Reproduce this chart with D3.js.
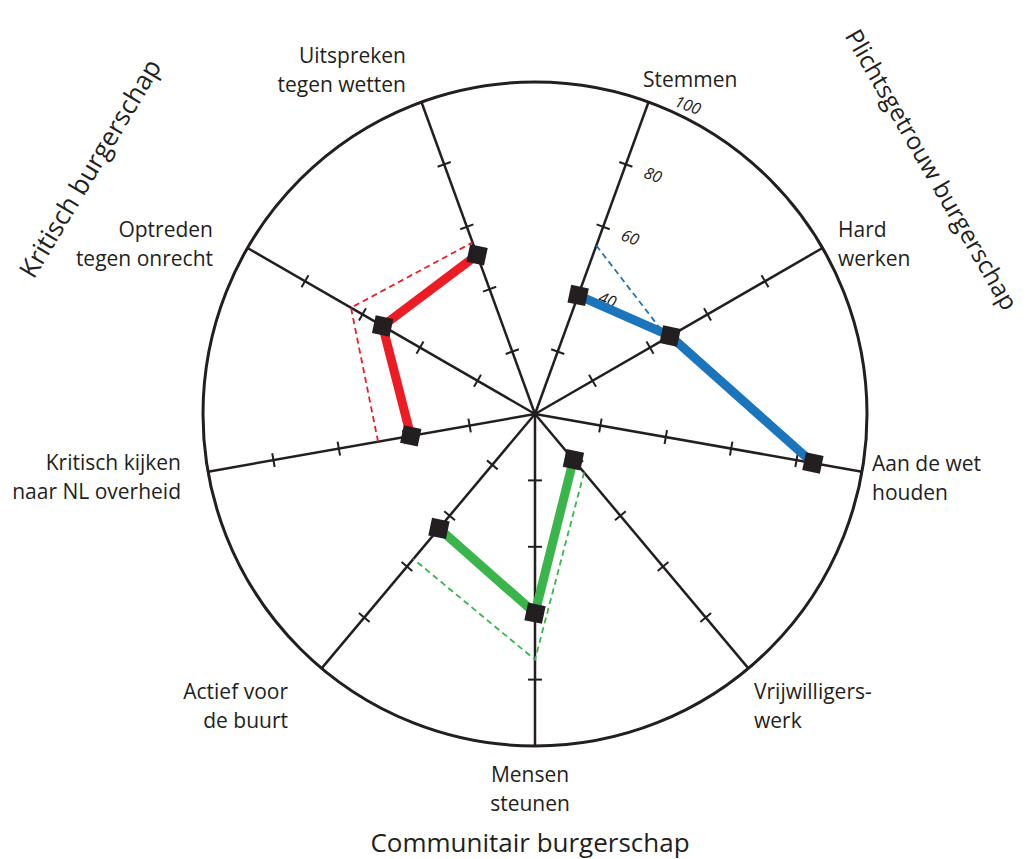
<!DOCTYPE html>
<html>
<head>
<meta charset="utf-8">
<script src="https://cdn.jsdelivr.net/npm/d3@7"></script>
<style>
  body { margin: 0; background: #fff; }
  svg text { font-family: "Open Sans", "Noto Sans", sans-serif; fill: #231f20; }
</style>
</head>
<body>
<svg id="chart" width="1033" height="859"></svg>
<script>
// categorieën, met de klok mee vanaf "Stemmen"
const categories = ["Stemmen", "Hard werken", "Aan de wet houden", "Vrijwilligerswerk",
  "Mensen steunen", "Actief voor de buurt", "Kritisch kijken naar NL overheid",
  "Optreden tegen onrecht", "Uitspreken tegen wetten"];
const labelLines = [["Stemmen"], ["Hard", "werken"], ["Aan de wet", "houden"],
  ["Vrijwilligers-", "werk"], ["Mensen", "steunen"], ["Actief voor", "de buurt"],
  ["Kritisch kijken", "naar NL overheid"], ["Optreden", "tegen onrecht"],
  ["Uitspreken", "tegen wetten"]];
const solidValues = [38, 47, 85, 18, 60, 45, 38, 53, 51];
const dashedValues = [54, 46, 86, 23, 74, 57, 48, 64, 55];
const groups = ["Plichtsgetrouw burgerschap", "Communitair burgerschap", "Kritisch burgerschap"];
const groupMembers = [[0, 1, 2], [3, 4, 5], [6, 7, 8]];
const groupColors = ["#1b75bc", "#39b54a", "#ed1c24"];
const tickValues = [20, 40, 60, 80, 100];
const tickLabels = ["40", "60", "80", "100"];

const svg = d3.select("#chart");
const cx = 535, cy = 414, R = 332;

const r = d3.scaleLinear().domain([0, 100]).range([0, R]);
const angle = d3.scaleLinear().domain([0, categories.length]).range([Math.PI / 9, Math.PI / 9 + 2 * Math.PI]);
const deg = i => angle(i) * 180 / Math.PI;

const g = svg.append("g").attr("transform", `translate(${cx},${cy})`);

// buitenste cirkel
g.append("circle").attr("r", R).attr("fill", "none").attr("stroke", "#231f20").attr("stroke-width", 3);

// assen met streepjes
const axis = g.selectAll("g.axis").data(categories).join("g")
  .attr("class", "axis")
  .attr("transform", (d, i) => `rotate(${deg(i)})`);

axis.append("line")
  .attr("x1", 0).attr("y1", 0).attr("x2", 0).attr("y2", -R)
  .attr("stroke", "#231f20").attr("stroke-width", 2.5);

axis.selectAll("line.tick").data(tickValues).join("line")
  .attr("class", "tick")
  .attr("x1", -7).attr("x2", 7)
  .attr("y1", d => -r(d)).attr("y2", d => -r(d))
  .attr("stroke", "#231f20").attr("stroke-width", 2);

// schaalwaarden langs "Stemmen"
g.append("g").attr("transform", `rotate(${deg(0)})`)
  .selectAll("text").data(tickLabels).join("text")
  .attr("x", d => d === "100" ? 38 : 29)
  .attr("y", d => -r(+d) + (d === "100" ? -9 : 2))
  .attr("text-anchor", "middle")
  .attr("dominant-baseline", "middle")
  .attr("font-size", 16)
  .attr("font-style", "italic")
  .text(d => d);

// lijnen per groep
const line = d3.line()
  .x(d => d3.pointRadial(angle(d.i), r(d.v))[0])
  .y(d => d3.pointRadial(angle(d.i), r(d.v))[1]);

groupMembers.forEach((members, k) => {
  g.append("path")
    .datum(members.map(i => ({ i, v: dashedValues[i] })))
    .attr("d", line)
    .attr("fill", "none")
    .attr("stroke", groupColors[k])
    .attr("stroke-width", 1.8)
    .attr("stroke-dasharray", "6,4");
  g.append("path")
    .datum(members.map(i => ({ i, v: solidValues[i] })))
    .attr("d", line)
    .attr("fill", "none")
    .attr("stroke", groupColors[k])
    .attr("stroke-width", 9)
    .attr("stroke-linejoin", "round");
});

// zwarte markeringen
g.selectAll("rect.marker").data(solidValues).join("rect")
  .attr("class", "marker")
  .attr("x", -9).attr("y", -9).attr("width", 18).attr("height", 18)
  .attr("fill", "#231f20")
  .attr("transform", (d, i) => {
    const [x, y] = d3.pointRadial(angle(i), r(d));
    return `translate(${x},${y}) rotate(12)`;
  });

// categorielabels
const labelPos = [
  { x: 643, y: 87, anchor: "start" },
  { x: 838, y: 237, anchor: "start" },
  { x: 872, y: 471, anchor: "start" },
  { x: 754, y: 699, anchor: "start" },
  { x: 530, y: 782, anchor: "middle" },
  { x: 288, y: 699, anchor: "end" },
  { x: 181, y: 470, anchor: "end" },
  { x: 213, y: 237, anchor: "end" },
  { x: 406, y: 63, anchor: "end" }
];

labelLines.forEach((lines, i) => {
  const t = svg.append("text")
    .attr("x", labelPos[i].x).attr("y", labelPos[i].y)
    .attr("text-anchor", labelPos[i].anchor)
    .attr("font-size", 21);
  lines.forEach((s, j) => {
    t.append("tspan").attr("x", labelPos[i].x).attr("dy", j === 0 ? 0 : 28.5).text(s);
  });
});

// groepslabels
svg.append("text").attr("transform", "translate(924,174) rotate(60)")
  .attr("text-anchor", "middle").attr("font-size", 24.5).text(groups[0]);
svg.append("text").attr("x", 530).attr("y", 852)
  .attr("text-anchor", "middle").attr("font-size", 26).text(groups[1]);
svg.append("text").attr("transform", "translate(98,173) rotate(-59)")
  .attr("text-anchor", "middle").attr("font-size", 26).text(groups[2]);
</script>
</body>
</html>
